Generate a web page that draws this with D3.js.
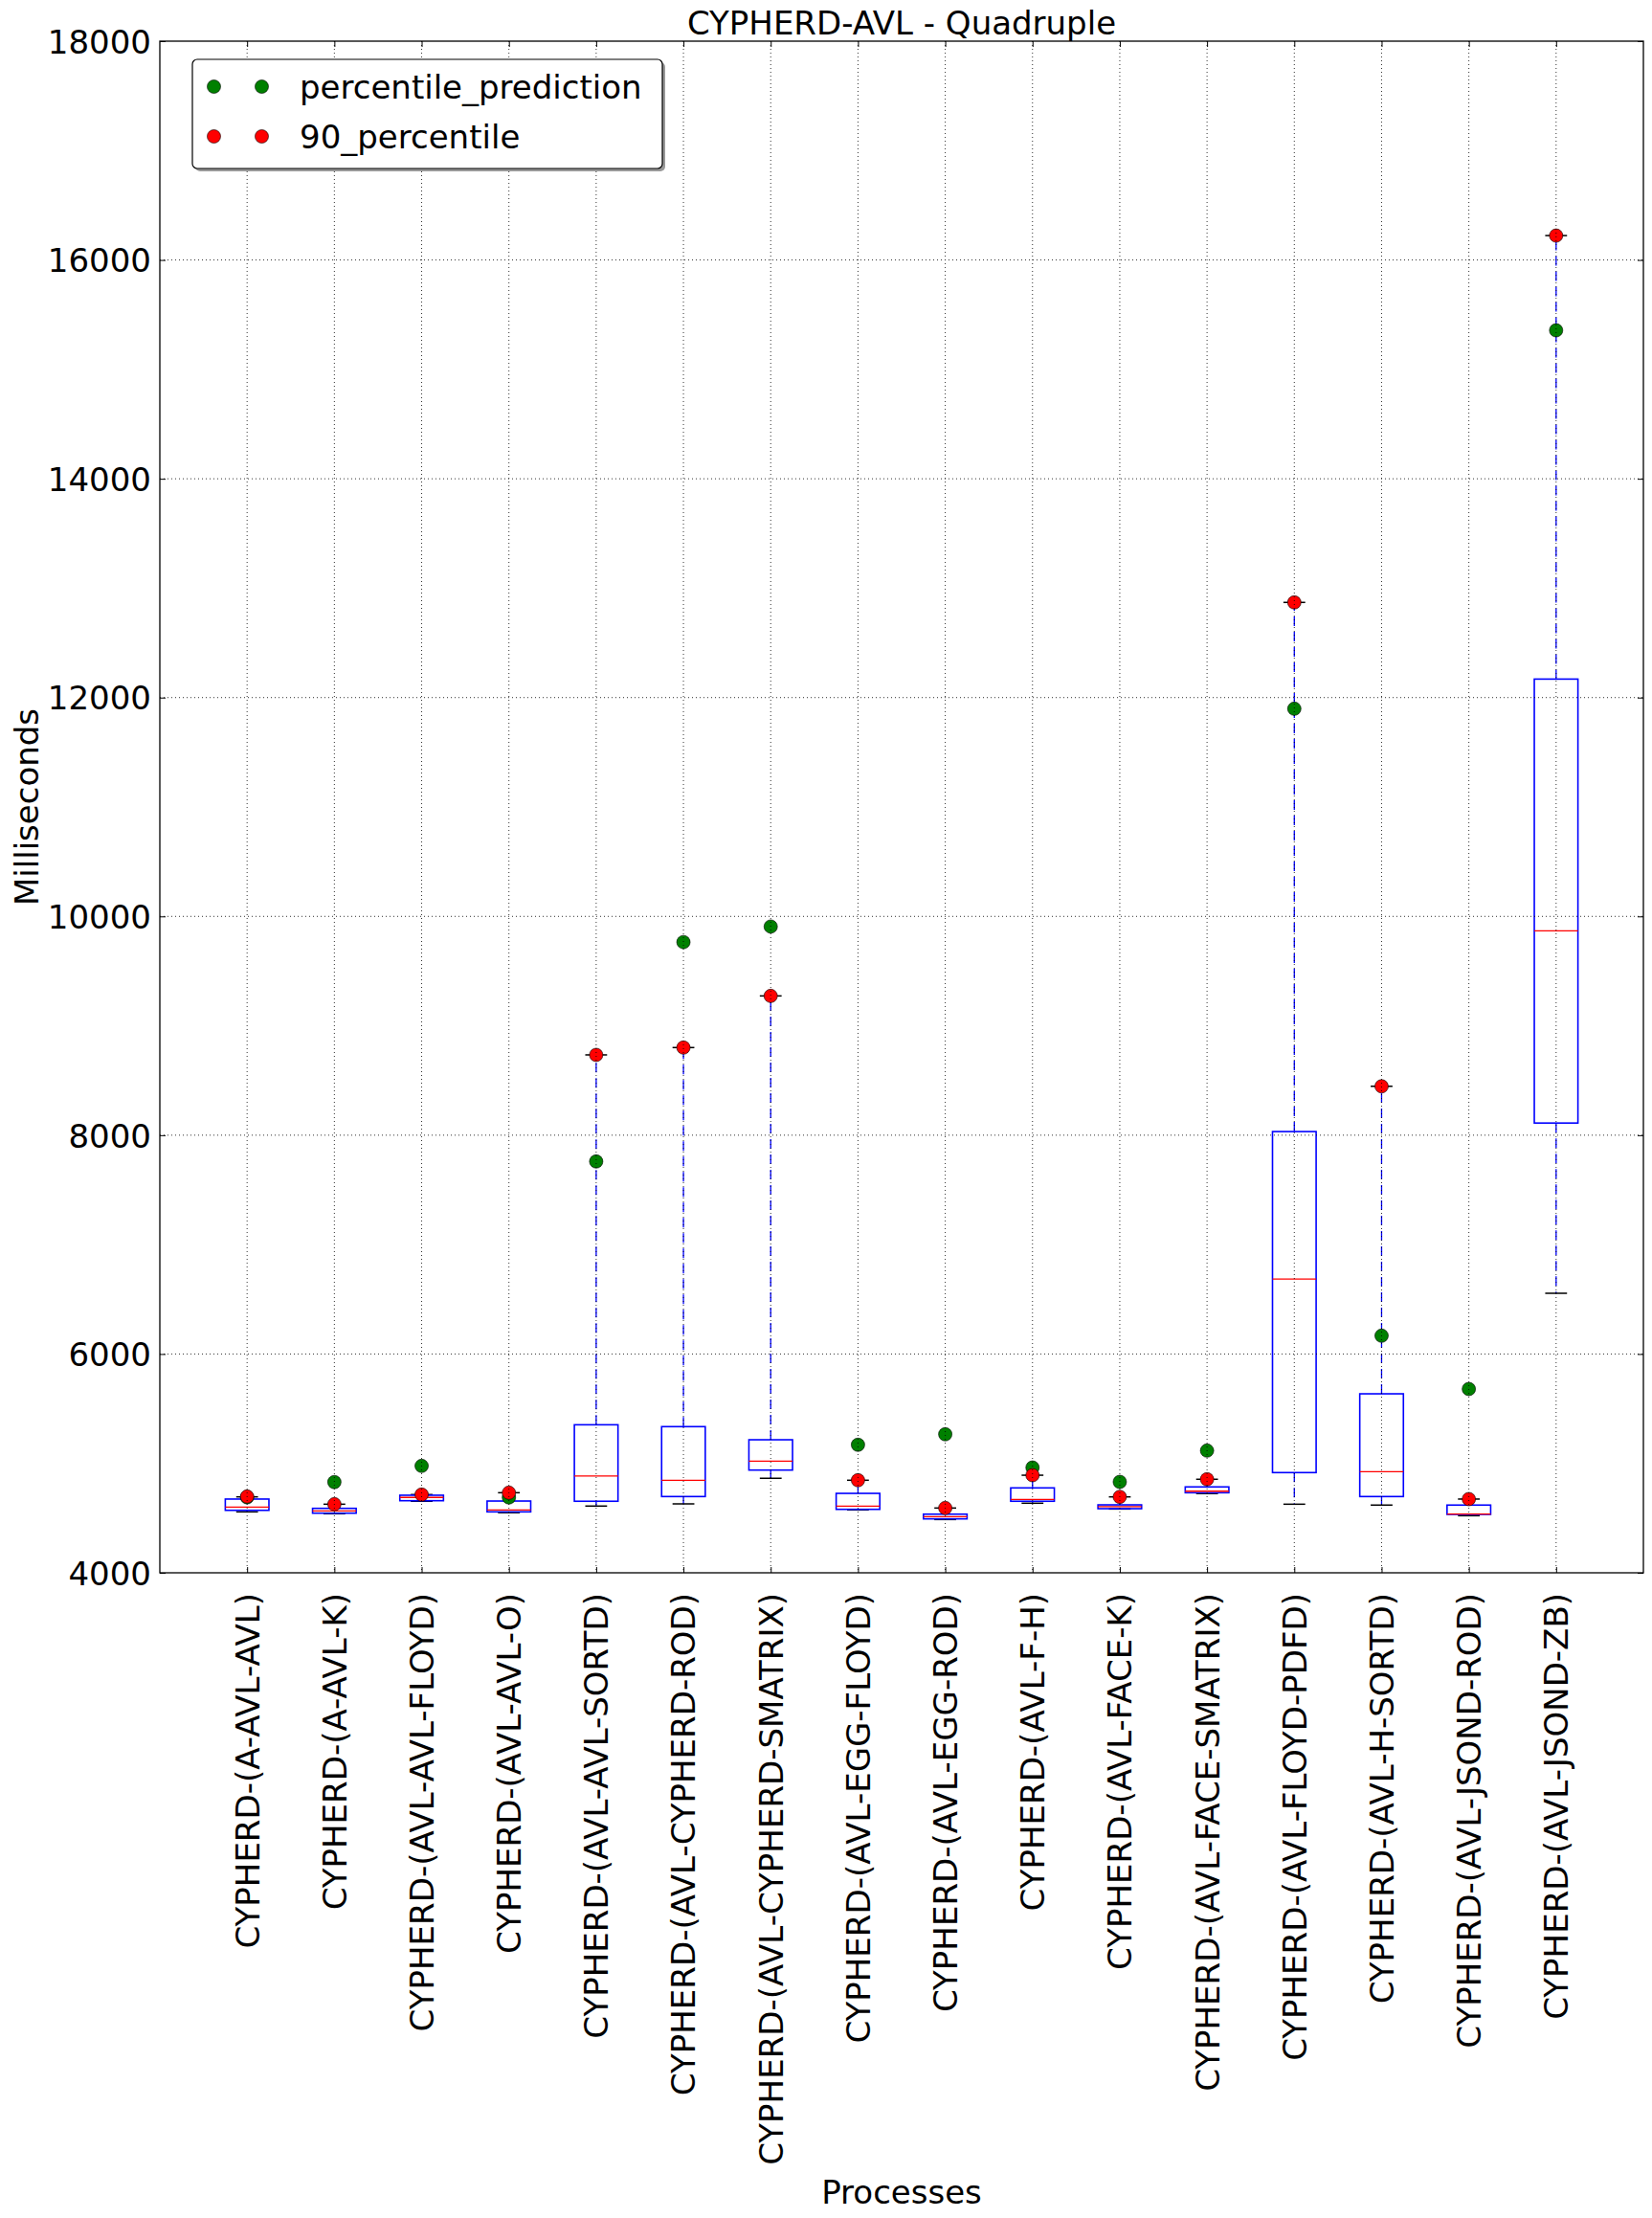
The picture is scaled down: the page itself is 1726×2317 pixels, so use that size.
<!DOCTYPE html>
<html>
<head>
<meta charset="utf-8">
<script src="https://cdn.jsdelivr.net/npm/d3@7"></script>
<style>
  html, body { margin: 0; padding: 0; background: #fff; }
  svg { display: block; font-family: "DejaVu Sans", sans-serif; }
</style>
</head>
<body>
<svg id="chart" width="1726" height="2317"></svg>
<script>
// ---------- data ----------
const categories = [
  "CYPHERD-(A-AVL-AVL)", "CYPHERD-(A-AVL-K)", "CYPHERD-(AVL-AVL-FLOYD)", "CYPHERD-(AVL-AVL-O)",
  "CYPHERD-(AVL-AVL-SORTD)", "CYPHERD-(AVL-CYPHERD-ROD)", "CYPHERD-(AVL-CYPHERD-SMATRIX)", "CYPHERD-(AVL-EGG-FLOYD)",
  "CYPHERD-(AVL-EGG-ROD)", "CYPHERD-(AVL-F-H)", "CYPHERD-(AVL-FACE-K)", "CYPHERD-(AVL-FACE-SMATRIX)",
  "CYPHERD-(AVL-FLOYD-PDFD)", "CYPHERD-(AVL-H-SORTD)", "CYPHERD-(AVL-JSOND-ROD)", "CYPHERD-(AVL-JSOND-ZB)"
];
const whiskerLow  = [4557, 4540, 4654, 4549, 4610, 4630, 4864, 4575, 4487, 4636, 4583, 4724, 4627, 4619, 4522, 6555];
const q1          = [4571, 4545, 4659, 4557, 4654, 4697, 4939, 4580, 4493, 4654, 4586, 4732, 4916, 4697, 4534, 8111];
const median      = [4601, 4566, 4689, 4575, 4884, 4846, 5021, 4610, 4513, 4671, 4604, 4746, 6686, 4925, 4537, 9868];
const q3          = [4674, 4589, 4709, 4656, 5353, 5336, 5216, 4726, 4536, 4776, 4621, 4785, 8033, 5636, 4619, 12169];
const whiskerHigh = [4694, 4627, 4715, 4732, 8734, 8801, 9273, 4846, 4592, 4892, 4694, 4855, 12870, 8447, 4674, 16223];
const percentilePrediction = [4690, 4829, 4977, 4689, 7760, 9765, 9907, 5170, 5266, 4962, 4831, 5117, 11898, 6167, 5680, 15357];
const percentile90 = [4697, 4627, 4715, 4732, 8734, 8801, 9273, 4846, 4592, 4892, 4694, 4855, 12870, 8447, 4674, 16223];
const yTicks = [4000, 6000, 8000, 10000, 12000, 14000, 16000, 18000];
const legendLabels = ["percentile_prediction", "90_percentile"];
const legendColors = ["#008000", "#ff0000"];

// ---------- layout ----------
const L = 167, R = 1717, T = 43, B = 1643;
const FS = 34;
const svg = d3.select("#chart");
svg.append("rect").attr("width", 1726).attr("height", 2317).attr("fill", "#fff");

const x = d3.scaleLinear().domain([0, categories.length + 1]).range([L, R]);
const y = d3.scaleLinear().domain([4000, 18000]).range([B, T]);
const idx = d3.range(categories.length);
const boxW = (x(1) - x(0)) * 0.5;
const capW = boxW * 0.5;

const g = svg.append("g");

// whiskers (dashed blue)
g.selectAll(".wh-up").data(idx).join("line")
  .attr("x1", i => x(i + 1)).attr("x2", i => x(i + 1))
  .attr("y1", i => y(q3[i])).attr("y2", i => y(whiskerHigh[i]))
  .attr("stroke", "#0000ff").attr("stroke-width", 1.3).attr("stroke-dasharray", "10,6");
g.selectAll(".wh-low").data(idx).join("line")
  .attr("x1", i => x(i + 1)).attr("x2", i => x(i + 1))
  .attr("y1", i => y(q1[i])).attr("y2", i => y(whiskerLow[i]))
  .attr("stroke", "#0000ff").attr("stroke-width", 1.3).attr("stroke-dasharray", "10,6");
// caps
g.selectAll(".cap-up").data(idx).join("line")
  .attr("x1", i => x(i + 1) - capW / 2).attr("x2", i => x(i + 1) + capW / 2)
  .attr("y1", i => y(whiskerHigh[i])).attr("y2", i => y(whiskerHigh[i]))
  .attr("stroke", "#000").attr("stroke-width", 1.5);
g.selectAll(".cap-low").data(idx).join("line")
  .attr("x1", i => x(i + 1) - capW / 2).attr("x2", i => x(i + 1) + capW / 2)
  .attr("y1", i => y(whiskerLow[i])).attr("y2", i => y(whiskerLow[i]))
  .attr("stroke", "#000").attr("stroke-width", 1.5);
// boxes
g.selectAll(".box").data(idx).join("rect")
  .attr("x", i => x(i + 1) - boxW / 2).attr("width", boxW)
  .attr("y", i => y(q3[i])).attr("height", i => y(q1[i]) - y(q3[i]))
  .attr("fill", "none").attr("stroke", "#0000ff").attr("stroke-width", 1.6);
// medians
g.selectAll(".med").data(idx).join("line")
  .attr("x1", i => x(i + 1) - boxW / 2).attr("x2", i => x(i + 1) + boxW / 2)
  .attr("y1", i => y(median[i])).attr("y2", i => y(median[i]))
  .attr("stroke", "#ff0000").attr("stroke-width", 1.3);

// points
g.selectAll(".pred").data(idx).join("circle")
  .attr("cx", i => x(i + 1)).attr("cy", i => y(percentilePrediction[i])).attr("r", 7)
  .attr("fill", "#008000").attr("stroke", "#000").attr("stroke-width", 0.6);
g.selectAll(".p90").data(idx).join("circle")
  .attr("cx", i => x(i + 1)).attr("cy", i => y(percentile90[i])).attr("r", 7)
  .attr("fill", "#ff0000").attr("stroke", "#000").attr("stroke-width", 0.6);

// grid (drawn on top, classic style)
const grid = svg.append("g").attr("stroke", "#000").attr("stroke-width", 1)
  .attr("stroke-dasharray", "1,3").attr("opacity", 0.8);
grid.selectAll(".gx").data(idx).join("line")
  .attr("x1", i => x(i + 1)).attr("x2", i => x(i + 1)).attr("y1", T).attr("y2", B);
grid.selectAll(".gy").data(yTicks.slice(1, -1)).join("line")
  .attr("x1", L).attr("x2", R).attr("y1", d => y(d)).attr("y2", d => y(d));

// axes
const xAxis = svg.append("g").attr("transform", `translate(0,${B})`)
  .call(d3.axisBottom(x).tickValues(idx.map(i => i + 1)).tickFormat(d => categories[d - 1])
    .tickSizeInner(-6).tickSizeOuter(0));
xAxis.select(".domain").remove();
xAxis.selectAll("line").attr("stroke", "#000").attr("stroke-width", 1);
xAxis.selectAll("text")
  .attr("transform", "rotate(-90)")
  .attr("x", -21).attr("y", 0).attr("dy", "0.35em")
  .style("text-anchor", "end").style("font-size", FS + "px")
  .style("font-family", "'DejaVu Sans', sans-serif").attr("fill", "#000");

const yAxis = svg.append("g").attr("transform", `translate(${L},0)`)
  .call(d3.axisLeft(y).tickValues(yTicks).tickFormat(d3.format("d"))
    .tickSizeInner(-6).tickSizeOuter(0).tickPadding(9));
yAxis.select(".domain").remove();
yAxis.selectAll("line").attr("stroke", "#000").attr("stroke-width", 1);
yAxis.selectAll("text").attr("dy", "0.36em").style("font-size", FS + "px")
  .style("font-family", "'DejaVu Sans', sans-serif").attr("fill", "#000");

// mirrored ticks on top and right
const topAx = svg.append("g").attr("transform", `translate(0,${T})`)
  .call(d3.axisTop(x).tickValues(idx.map(i => i + 1)).tickFormat("").tickSizeInner(-6).tickSizeOuter(0));
topAx.select(".domain").remove();
topAx.selectAll("line").attr("stroke", "#000");
const rightAx = svg.append("g").attr("transform", `translate(${R},0)`)
  .call(d3.axisRight(y).tickValues(yTicks).tickFormat("").tickSizeInner(-6).tickSizeOuter(0));
rightAx.select(".domain").remove();
rightAx.selectAll("line").attr("stroke", "#000");

// frame
svg.append("rect").attr("x", L).attr("y", T).attr("width", R - L).attr("height", B - T)
  .attr("fill", "none").attr("stroke", "#000").attr("stroke-width", 1.3);

// title and axis labels
svg.append("text").attr("x", (L + R) / 2).attr("y", 36).attr("text-anchor", "middle")
  .style("font-size", FS + "px").text("CYPHERD-AVL - Quadruple");
svg.append("text").attr("transform", `translate(40,${(T + B) / 2}) rotate(-90)`)
  .attr("text-anchor", "middle").style("font-size", FS + "px").text("Milliseconds");
svg.append("text").attr("x", (L + R) / 2).attr("y", 2302).attr("text-anchor", "middle")
  .style("font-size", FS + "px").text("Processes");

// legend
const lg = svg.append("g");
const lx = 201, ly = 62, lw = 491, lh = 114;
lg.append("rect").attr("x", lx + 3).attr("y", ly + 3).attr("width", lw).attr("height", lh)
  .attr("rx", 5).attr("fill", "#555").attr("opacity", 0.6);
lg.append("rect").attr("x", lx).attr("y", ly).attr("width", lw).attr("height", lh)
  .attr("rx", 5).attr("fill", "#fff").attr("stroke", "#000").attr("stroke-width", 1.2);
legendLabels.forEach((lab, k) => {
  const cy = 90.5 + k * 52;
  [223.5, 273.5].forEach(cx => {
    lg.append("circle").attr("cx", cx).attr("cy", cy).attr("r", 7)
      .attr("fill", legendColors[k]).attr("stroke", "#000").attr("stroke-width", 0.6);
  });
  lg.append("text").attr("x", 313).attr("y", cy + 12).style("font-size", FS + "px").text(lab);
});
</script>
</body>
</html>
